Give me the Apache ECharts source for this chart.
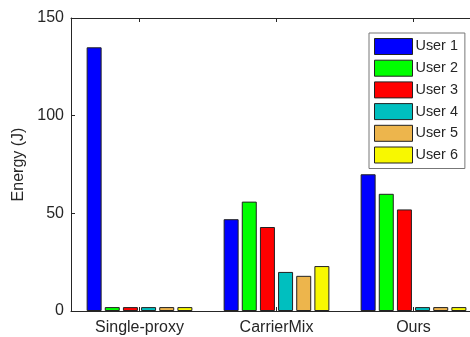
<!DOCTYPE html>
<html><head><meta charset="utf-8">
<script src="https://cdn.jsdelivr.net/npm/echarts@6/dist/echarts.min.js"></script>
<style>html,body{margin:0;padding:0;background:#fff;overflow:hidden}#c{width:490px;height:337px}</style>
</head><body><div id="c"></div>
<script>
const categories = ['Single-proxy', 'CarrierMix', 'Ours'];
const seriesNames = ['User 1', 'User 2', 'User 3', 'User 4', 'User 5', 'User 6'];
const user1 = [135, 47, 70];
const user2 = [2, 56, 60];
const user3 = [2, 43, 52];
const user4 = [2, 20, 2];
const user5 = [2, 18, 2];
const user6 = [2, 23, 2];
const yTicks = [0, 50, 100, 150];
const colors = ['#0000FF', '#00FF00', '#FF0000', '#00BFBF', '#EDB54C', '#F8F800'];

const allData = [user1, user2, user3, user4, user5, user6];
const font = 'Liberation Sans, Arial, sans-serif';
const chart = echarts.init(document.getElementById('c'), null, {renderer: 'canvas'});
chart.setOption({
  animation: false,
  color: colors,
  grid: {left: 71, top: 18, width: 411, height: 293, containLabel: false},
  legend: {
    show: true, orient: 'vertical', left: 369, top: 33,
    itemWidth: 38, itemHeight: 16, itemGap: 4.7,
    padding: [5, 7, 5, 5],
    backgroundColor: '#fff', borderColor: '#777', borderWidth: 1,
    textStyle: {fontFamily: font, fontSize: 14.4, color: '#262626', padding: [0, 0, 0, -2]},
    data: seriesNames.map(n => ({name: n, icon: 'rect'})),
    itemStyle: {borderColor: '#222', borderWidth: 1}
  },
  xAxis: [{
    type: 'category', data: categories, position: 'bottom',
    axisLine: {lineStyle: {color: '#262626', width: 1}},
    axisTick: {show: true, inside: true, alignWithLabel: true, length: 4, lineStyle: {color: '#262626'}},
    axisLabel: {fontFamily: font, fontSize: 16, color: '#262626', margin: 9}
  }, {
    type: 'category', data: categories, position: 'top',
    axisLine: {show: true, lineStyle: {color: '#262626', width: 1}},
    axisTick: {show: true, inside: true, alignWithLabel: true, length: 4, lineStyle: {color: '#262626'}},
    axisLabel: {show: false}
  }],
  yAxis: {
    type: 'value', min: yTicks[0], max: yTicks[yTicks.length - 1], interval: 50,
    name: 'Energy (J)', nameLocation: 'middle', nameGap: 43, nameRotate: 90,
    nameTextStyle: {fontFamily: font, fontSize: 16, color: '#262626'},
    axisLine: {show: true, lineStyle: {color: '#262626', width: 1}},
    axisTick: {show: true, inside: true, length: 4, lineStyle: {color: '#262626'}},
    axisLabel: {fontFamily: font, fontSize: 16, color: '#262626', margin: 7},
    splitLine: {show: false}
  },
  series: allData.map((d, i) => ({
    name: seriesNames[i], type: 'bar', data: d, xAxisIndex: 0,
    barWidth: 15, barGap: '21%',
    itemStyle: {color: colors[i], borderColor: '#222', borderWidth: 1}
  }))
});
</script></body></html>
